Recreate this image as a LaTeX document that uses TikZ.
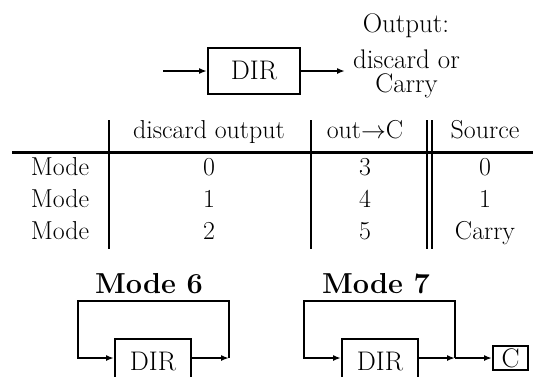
\documentclass[tikz,border=0pt]{standalone}
\usetikzlibrary{arrows.meta,calc}
\tikzset{
  blk/.style={draw, line width=2bp, minimum height=46bp, inner sep=0pt, font=\fontsize{27}{32}\selectfont},
  cbox/.style={draw, line width=2bp, minimum width=35bp, minimum height=24bp, inner sep=0pt, font=\fontsize{27}{32}\selectfont},
  conn/.style={line width=2bp},
  arr/.style={conn, -{Latex[length=8bp,width=6bp]}},
  txt/.style={inner sep=0pt, anchor=base, font=\fontsize{27}{32}\selectfont},
  txtb/.style={inner sep=0pt, align=center, font=\fontsize{27}{24}\selectfont},
  tbl/.style={inner sep=0pt, anchor=base, font=\fontsize{26}{31}\selectfont},
  vrule/.style={line width=2bp},
  hrule/.style={line width=3bp},
  ttl/.style={inner sep=0pt, anchor=base, font=\fontsize{29}{34}\selectfont\bfseries},
}
\begin{document}
\begin{tikzpicture}[x=1bp,y=-1bp]
\useasboundingbox (0,0) rectangle (533,376);
\clip (0,0) rectangle (533,376);
% top diagram
\node[blk, minimum width=92bp] (dir) at (254,71) {DIR};
\coordinate (in) at (163,71);
\coordinate (out) at (345,71);
\draw[arr] (in) -- (dir);
\draw[arr] (dir) -- (out);
\node[txt] (o1) at (406,32) {Output:};
\node[txtb] (o2) at (406.5,74.3) {discard or\\Carry};
% table
\coordinate (h1) at (12,152);
\coordinate (h2) at (533,152);
\draw[hrule] (h1) -- (h2);
\foreach \x/\n in {109/a,311/b,427/c,432/d}{
  \coordinate (t\n) at (\x,120);
  \coordinate (b\n) at (\x,249);
  \draw[vrule] (t\n) -- (b\n);
}
\node[tbl] (hd1) at (209,138) {discard output};
\node[tbl] (hd2) at (365,138) {out$\rightarrow$C};
\node[tbl] (hd3) at (485,138) {Source};
\foreach \y/\a/\b/\c/\i in {175/0/3/0/1,207/1/4/1/2,239/2/5/Carry/3}{
  \node[tbl] (m\i) at (60,\y) {Mode};
  \node[tbl] (p\i) at (209,\y) {\a};
  \node[tbl] (q\i) at (365,\y) {\b};
  \node[tbl] (r\i) at (485,\y) {\c};
}
% mode 6
\node[ttl] (t6) at (149,293) {Mode 6};
\node[blk, minimum width=76bp] (d6) at (153,362) {DIR};
\coordinate (a6) at (229,358);
\coordinate (b6) at (229,301);
\coordinate (c6) at (78,301);
\coordinate (e6) at (78,358);
\draw[arr] (d6.east |- a6) -- (a6);
\draw[arr] (a6) -- (b6) -- (c6) -- (e6) -- (d6.west |- e6);
% mode 7
\node[ttl] (t7) at (376,293) {Mode 7};
\node[blk, minimum width=76bp] (d7) at (380,362) {DIR};
\node[cbox] (cc) at (510.5,358) {C};
\coordinate (a7) at (455,358);
\coordinate (b7) at (455,301);
\coordinate (c7) at (304,301);
\coordinate (e7) at (304,358);
\draw[arr] (d7.east |- a7) -- (a7);
\draw[arr] (a7) -- (b7) -- (c7) -- (e7) -- (d7.west |- e7);
\draw[arr] (a7) -- (cc);
\end{tikzpicture}
\end{document}
